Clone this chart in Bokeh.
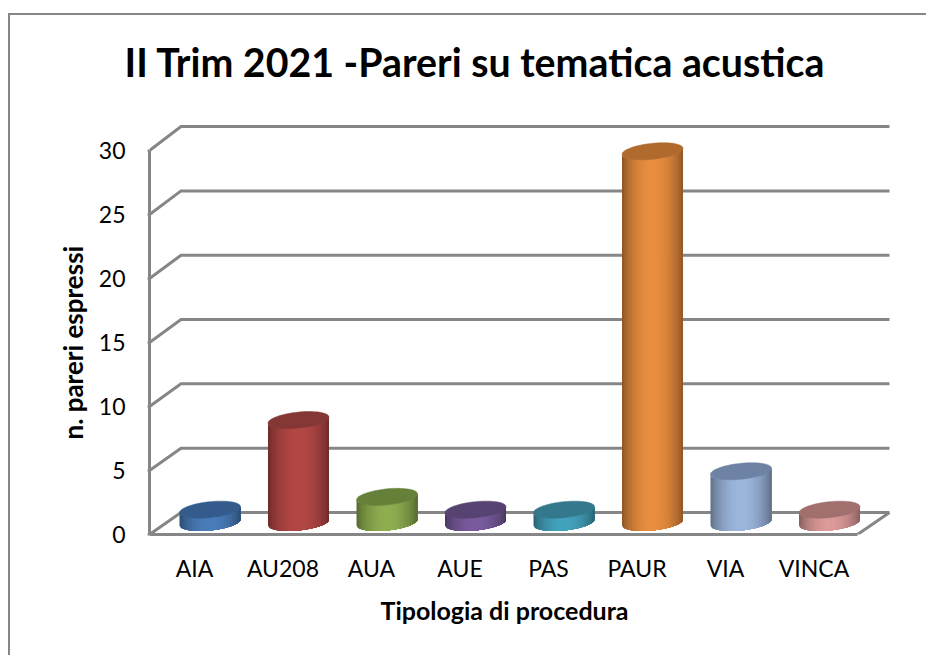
import math
from bokeh.plotting import figure
from bokeh.models import (Range1d, FixedTicker, ColumnDataSource, Title)
from bokeh.embed import file_html
from bokeh.resources import INLINE

categories = ["AIA", "AU208", "AUA", "AUE", "PAS", "PAUR", "VIA", "VINCA"]
values = [1, 8, 2, 1, 1, 29, 4, 1]
y_ticks = [0, 5, 10, 15, 20, 25, 30]
title_text = "II Trim 2021 -Pareri su tematica acustica"
x_title = "Tipologia di procedura"
y_title = "n. pareri espressi"
mid_colors = ["#4a7ebb", "#b34845", "#8fae50", "#7a5c9e", "#44a3bd", "#ea8e40", "#9db6de", "#dd9b99"]
top_colors = ["#335c8c", "#843835", "#66803a", "#574371", "#33788c", "#b06a2e", "#6e83a4", "#a06f6e"]

GRAY = "#868686"
FONT = "Lato"

# page origin of the canvas, then the reference's pixel positions
OX, OY = 10, 15
W, H = 918, 642
FL, FR, FT, FB = 149 - OX, 895 - OX, 120 - OY, 534 - OY
PX_CAT = 88.5
PX_VAL = 12.8
x0 = -(194 - 149) / PX_CAT
p = figure(width=W, height=H, output_backend="svg", toolbar_location=None,
           x_range=Range1d(x0, x0 + (FR - FL) / PX_CAT),
           y_range=Range1d(0, (FB - FT) / PX_VAL),
           min_border_left=FL, min_border_right=W - FR,
           min_border_top=FT, min_border_bottom=H - FB,
           background_fill_color="white", border_fill_color="white")
p.outline_line_color = None
p.grid.visible = False
p.styles = {"border-left": "2px solid #868686", "border-top": "2px solid #868686",
            "margin-top": "13px", "margin-left": "8px"}

ax = p.xaxis[0]
ax.ticker = FixedTicker(ticks=list(range(len(categories))))
ax.major_label_overrides = {i: c for i, c in enumerate(categories)}
ax.bounds = (x0, len(categories) + x0)
ax.axis_line_color = GRAY
ax.axis_line_width = 3
ax.major_tick_line_color = None
ax.minor_tick_line_color = None
ax.major_label_text_font = FONT
ax.major_label_text_font_size = "23px"
ax.major_label_text_color = "#000000"
ax.major_label_standoff = 13

ay = p.yaxis[0]
ay.ticker = FixedTicker(ticks=y_ticks)
ay.bounds = (0, 30)
ay.axis_line_color = GRAY
ay.axis_line_width = 3
ay.major_tick_line_color = GRAY
ay.major_tick_line_width = 2
ay.major_tick_in = 0
ay.major_tick_out = 2
ay.minor_tick_line_color = None
ay.major_label_text_font = FONT
ay.major_label_text_font_size = "23px"
ay.major_label_text_color = "#000000"
ay.major_label_standoff = 22

# a blank title next to the frame lifts the real title to its height
p.add_layout(Title(text=" ", text_font=FONT, text_font_size="26px", standoff=0), "above")
p.add_layout(Title(text=title_text, text_font=FONT, text_font_size="39.3px",
                   text_font_style="bold", text_color="#000000", align="left",
                   offset=-25, standoff=4), "above")
p.add_layout(Title(text=x_title, text_font=FONT, text_font_size="25px",
                   text_font_style="bold", text_color="#000000", align="left",
                   offset=231, standoff=16), "below")
p.add_layout(Title(text=y_title, text_font=FONT, text_font_size="26px",
                   text_font_style="bold", text_color="#000000", align="left",
                   offset=95, standoff=13), "left")

# 3D wall: depth lines from the front axis to the back wall, then across
DX = 31.5 / PX_CAT
xs_back_end = x0 + (889 - 149) / PX_CAT
def back(v):
    return 1.72 + v * 1.005
grid_xs, grid_ys = [], []
for v in y_ticks:
    grid_xs.append([x0, x0 + DX, xs_back_end])
    grid_ys.append([v, back(v), back(v)])
grid_xs.append([len(categories) + x0, xs_back_end])
grid_ys.append([0, back(0)])
p.multi_line(grid_xs, grid_ys, line_color=GRAY, line_width=3, line_join="miter")

# cylinders
HW = 30.5 / PX_CAT
SHIFT = 15.5 / PX_CAT
BASE = 0.94
B = 8 / PX_VAL
K = 3 / PX_VAL
N = 30
M = 60

def shade(hexc, f):
    r, g, b = (int(hexc[i:i + 2], 16) for i in (1, 3, 5))
    return "#%02x%02x%02x" % (min(255, int(r * f)), min(255, int(g * f)), min(255, int(b * f)))

def profile(u):
    return 0.58 + 0.42 * math.sin(math.pi * u) ** 0.7

def edge_y(c, u):
    # lower edge of the tilted ellipse at relative position u in 0..1
    t = math.acos(1 - 2 * u)
    return c - B * math.sin(t) - K * math.cos(t)

strip_xs, strip_ys, strip_c = [], [], []
top_xs, top_ys, top_c = [], [], []
for i, val in enumerate(values):
    cx = i + SHIFT
    ctop = BASE + val
    for j in range(N):
        # each strip reaches the right edge; the next one paints over it, so no seams
        us = [j / N + (1 - j / N) * k / M for k in range(M + 1)]
        xs_low = [cx - HW + 2 * HW * u for u in us]
        strip_xs.append(xs_low + xs_low[::-1])
        strip_ys.append([edge_y(BASE, u) for u in us] + [edge_y(ctop, u) for u in us[::-1]])
        strip_c.append(shade(mid_colors[i], profile((j + 0.5) / N)))
    ts = [2 * math.pi * k / 60 for k in range(60)]
    top_xs.append([cx - HW * math.cos(t) for t in ts])
    top_ys.append([ctop + B * math.sin(t) - K * math.cos(t) for t in ts])
    top_c.append(top_colors[i])

p.patches(xs="xs", ys="ys", fill_color="c", line_color=None,
          source=ColumnDataSource(dict(xs=strip_xs, ys=strip_ys, c=strip_c)))
p.patches(xs="xs", ys="ys", fill_color="c", line_color="c", line_width=0.5,
          source=ColumnDataSource(dict(xs=top_xs, ys=top_ys, c=top_c)))

open("out.html", "w").write(file_html(p, INLINE))
